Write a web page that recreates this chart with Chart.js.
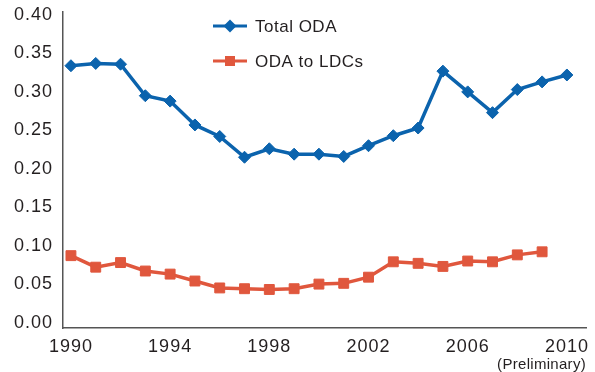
<!DOCTYPE html>
<html>
<head>
<meta charset="utf-8">
<script src="https://cdn.jsdelivr.net/npm/chart.js@4/dist/chart.umd.min.js"></script>
<style>
    html, body { margin: 0; padding: 0; background: #ffffff; }
    #wrap { position: relative; width: 595px; height: 372px; }
</style>
</head>
<body>
<div id="wrap"><canvas id="odaChart"></canvas></div>
<script>
// ODA as a share of donor GNI, per cent
var years = [1990, 1991, 1992, 1993, 1994, 1995, 1996, 1997, 1998, 1999, 2000,
             2001, 2002, 2003, 2004, 2005, 2006, 2007, 2008, 2009, 2010];
var totalOda = [0.334, 0.337, 0.336, 0.295, 0.288, 0.257, 0.242, 0.215, 0.226, 0.219, 0.219,
                0.216, 0.230, 0.243, 0.253, 0.327, 0.300, 0.273, 0.303, 0.313, 0.322];
var odaToLdcs = [0.087, 0.072, 0.078, 0.067, 0.063, 0.054, 0.045, 0.044, 0.043, 0.044, 0.050,
                 0.051, 0.059, 0.079, 0.077, 0.073, 0.080, 0.079, 0.088, 0.092, null];
var yearTicks = [1990, 1994, 1998, 2002, 2006, 2010];
var valueTicks = [0, 0.05, 0.10, 0.15, 0.20, 0.25, 0.30, 0.35, 0.40];

var FONT = "'Liberation Sans', Arial, sans-serif";
var TEXT = '#231f20';
var BLUE = '#0b63ad';
var RED = '#e0573d';

function points(values) {
    return years.map(function (yr, i) { return { x: yr, y: values[i] }; });
}

// two-row legend inside the plot, plus the note under the last year
var extras = {
    id: 'extras',
    beforeDraw: function (chart) {
        // the axis labels are set a little loose
        chart.ctx.letterSpacing = '1px';
    },
    afterDraw: function (chart) {
        var ctx = chart.ctx;
        var rows = [
            { label: 'Total ODA', color: BLUE, marker: 'diamond', y: 26 },
            { label: 'ODA to LDCs', color: RED, marker: 'square', y: 61 }
        ];
        ctx.save();
        rows.forEach(function (r) {
            ctx.strokeStyle = r.color;
            ctx.fillStyle = r.color;
            ctx.lineWidth = 3;
            ctx.beginPath();
            ctx.moveTo(213, r.y);
            ctx.lineTo(247, r.y);
            ctx.stroke();
            ctx.beginPath();
            if (r.marker === 'diamond') {
                ctx.moveTo(230, r.y - 6.5);
                ctx.lineTo(236.5, r.y);
                ctx.lineTo(230, r.y + 6.5);
                ctx.lineTo(223.5, r.y);
                ctx.closePath();
            } else {
                ctx.rect(225, r.y - 5, 10, 10);
            }
            ctx.fill();
            ctx.fillStyle = TEXT;
            ctx.font = '17px ' + FONT;
            ctx.letterSpacing = '0.5px';
            ctx.textAlign = 'left';
            ctx.textBaseline = 'middle';
            ctx.fillText(r.label, 255, r.y + 1);
        });
        ctx.font = '15px ' + FONT;
        ctx.letterSpacing = '0.3px';
        ctx.textAlign = 'right';
        ctx.textBaseline = 'middle';
        ctx.fillStyle = TEXT;
        ctx.fillText('(Preliminary)', 586, 365);
        ctx.restore();
    }
};

var chrt = document.getElementById('odaChart').getContext('2d');
var odaChart = new Chart(chrt, {
    type: 'line',
    data: {
        datasets: [{
            label: 'Total ODA',
            data: points(totalOda),
            borderColor: BLUE,
            backgroundColor: BLUE,
            borderWidth: 3.5,
            pointStyle: 'rectRot',
            pointRadius: 6,
            pointBorderWidth: 1,
            tension: 0
        }, {
            label: 'ODA to LDCs',
            data: points(odaToLdcs),
            borderColor: RED,
            backgroundColor: RED,
            borderWidth: 3.5,
            pointStyle: 'rect',
            pointRadius: 7,
            pointBorderWidth: 1,
            spanGaps: false,
            tension: 0
        }]
    },
    options: {
        responsive: true,
        maintainAspectRatio: false,
        animation: false,
        layout: { padding: { left: 0, top: 12, right: 9, bottom: 0 } },
        plugins: {
            legend: { display: false },
            tooltip: { enabled: false }
        },
        scales: {
            x: {
                type: 'linear',
                min: 1989.68,
                max: 2010.77,
                afterBuildTicks: function (scale) {
                    scale.ticks = yearTicks.map(function (v) { return { value: v }; });
                },
                afterFit: function (scale) {
                    scale.height = 44;
                    scale.paddingLeft = 0;
                    scale.paddingRight = 0;
                },
                grid: { display: false, drawTicks: false },
                border: { display: true, color: '#555555', width: 1.5 },
                ticks: {
                    padding: 8,
                    maxRotation: 0,
                    autoSkip: false,
                    color: TEXT,
                    font: { family: FONT, size: 18 },
                    callback: function (v) { return String(v); }
                }
            },
            y: {
                min: -0.0071,
                max: 0.4039,
                afterBuildTicks: function (scale) {
                    scale.ticks = valueTicks.map(function (v) { return { value: v }; });
                },
                afterFit: function (scale) {
                    scale.width = 63;
                    scale.paddingTop = 0;
                    scale.paddingBottom = 0;
                },
                grid: { display: false, drawTicks: false },
                border: { display: true, color: '#555555', width: 1.5 },
                ticks: {
                    padding: 10,
                    color: TEXT,
                    font: { family: FONT, size: 18 },
                    callback: function (v) { return v.toFixed(2); }
                }
            }
        }
    },
    plugins: [extras]
});
</script>
</body>
</html>
